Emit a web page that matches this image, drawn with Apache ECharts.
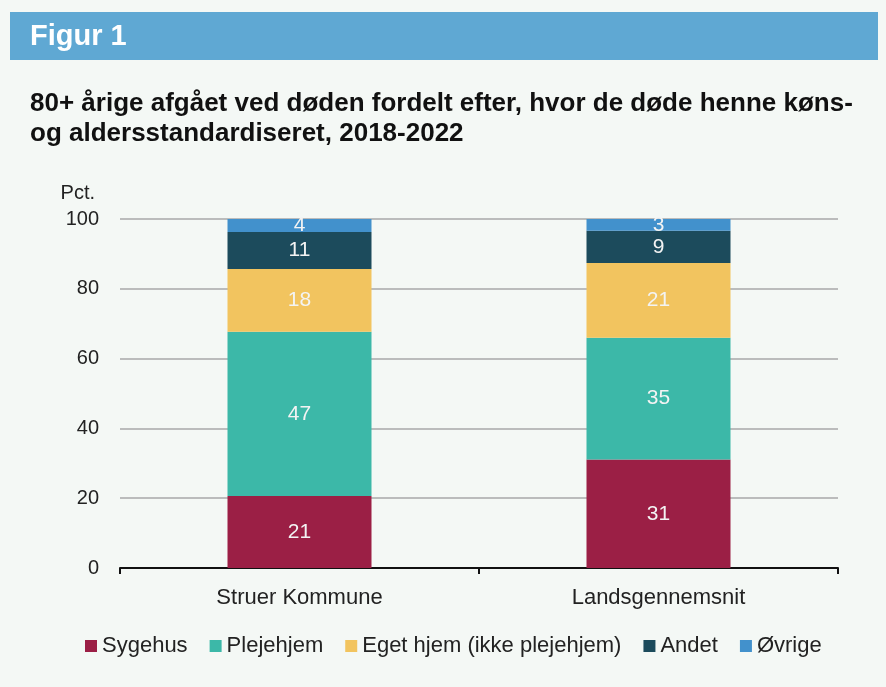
<!DOCTYPE html>
<html>
<head>
<meta charset="utf-8">
<script src="https://cdn.jsdelivr.net/npm/echarts@6/dist/echarts.min.js"></script>
<style>
html,body{margin:0;padding:0;background:#f4f8f5;}
#c{width:886px;height:687px;}
</style>
</head>
<body>
<div id="c"></div>
<script>
const categories = ['Struer Kommune', 'Landsgennemsnit'];
const seriesNames = ['Sygehus', 'Plejehjem', 'Eget hjem (ikke plejehjem)', 'Andet', 'Øvrige'];
const sygehus = [20.6, 31.1];
const plejehjem = [47.1, 34.9];
const egetHjem = [18.0, 21.4];
const andet = [10.6, 9.2];
const ovrige = [3.7, 3.4];
const shownLabels = [[21, 31], [47, 35], [18, 21], [11, 9], [4, 3]];
const yTicks = [0, 20, 40, 60, 80, 100];

const colors = ['#9b1f45', '#3cb8a8', '#f2c45f', '#1c4b5c', '#4291cc'];
const values = [sygehus, plejehjem, egetHjem, andet, ovrige];
const FONT = '"Liberation Sans", Arial, sans-serif';

const chart = echarts.init(document.getElementById('c'));
chart.setOption({
  backgroundColor: '#f4f8f5',
  animation: false,
  textStyle: { fontFamily: FONT },
  graphic: [
    { type: 'rect', shape: { x: 10, y: 12, width: 868, height: 48 }, style: { fill: '#5fa8d3' } },
    { type: 'text', left: 30, top: 22, style: { text: 'Figur 1', fill: '#ffffff', font: 'bold 29px ' + FONT } },
    { type: 'text', left: 30, top: 89, style: { text: '80+ årige afgået ved døden fordelt efter, hvor de døde henne køns-\nog aldersstandardiseret, 2018-2022', fill: '#111111', font: 'bold 26px ' + FONT, lineHeight: 30 } }
  ],
  grid: { left: 120, right: 48, top: 219, bottom: 119 },
  legend: {
    top: 630,
    left: 80,
    icon: 'rect',
    itemWidth: 12,
    itemHeight: 12,
    itemGap: 22,
    textStyle: { fontSize: 22, color: '#222', fontFamily: FONT },
    data: seriesNames
  },
  xAxis: {
    type: 'category',
    data: categories,
    axisLine: { lineStyle: { color: '#111', width: 2 } },
    axisTick: { show: true, length: 6, lineStyle: { color: '#111', width: 2 } },
    axisLabel: { fontSize: 22, color: '#222', margin: 19, fontFamily: FONT }
  },
  yAxis: {
    type: 'value',
    min: 0,
    max: 100,
    interval: 20,
    name: 'Pct.',
    nameGap: 16,
    nameTextStyle: { fontSize: 20, color: '#222', align: 'right', padding: [0, 25, 0, 0], fontFamily: FONT },
    axisLine: { show: false },
    axisTick: { show: false },
    axisLabel: { fontSize: 20, color: '#222', margin: 21, fontFamily: FONT,
      formatter: v => yTicks.includes(v) ? String(v) : '' },
    splitLine: { lineStyle: { color: '#a8a8a8', width: 1.5 } }
  },
  series: seriesNames.map((n, i) => ({
    name: n,
    type: 'bar',
    stack: 'total',
    barWidth: 144,
    data: values[i],
    itemStyle: { color: colors[i] },
    label: {
      show: true,
      position: 'inside',
      color: '#f3f3f3',
      fontSize: 21,
      fontFamily: FONT,
      formatter: p => String(shownLabels[i][p.dataIndex])
    }
  }))
});
</script>
</body>
</html>
